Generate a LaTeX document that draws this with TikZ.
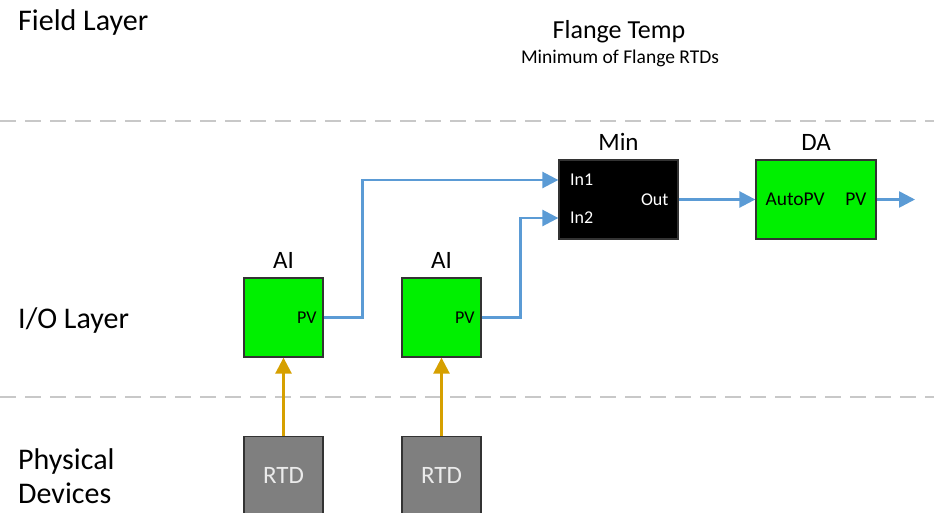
\documentclass[tikz,border=0pt]{standalone}
\usepackage{fontspec}
\setmainfont{Carlito}
\usetikzlibrary{arrows.meta,positioning}

\definecolor{flowblue}{RGB}{91,155,213}
\definecolor{rtdgold}{RGB}{214,160,0}
\definecolor{blkgreen}{RGB}{0,240,0}
\definecolor{rtdgray}{RGB}{127,127,127}
\definecolor{sepgray}{RGB}{200,200,200}

\tikzset{
  layer/.style={anchor=west, align=left, font=\fontsize{30}{35}\selectfont, inner sep=0pt},
  fblock/.style={draw=black!80, line width=1.3pt, fill=blkgreen, minimum width=79pt, minimum height=79pt, inner sep=0pt},
  minblock/.style={draw=black!80, line width=1.3pt, fill=black, minimum width=119pt, minimum height=79pt, inner sep=0pt},
  rtdblock/.style={draw=black!80, line width=1.3pt, fill=rtdgray, text=white!92!black, minimum width=79pt, minimum height=79pt, inner sep=0pt, font=\fontsize{25}{30}\selectfont},
  blabel/.style={font=\fontsize{25}{30}\selectfont, inner sep=0pt},
  port/.style={font=\fontsize{18}{22}\selectfont, inner sep=0pt},
  flow/.style={-{Triangle[length=16pt,width=16pt]}, draw=flowblue, line width=2.6pt},
  feed/.style={-{Triangle[length=16pt,width=16pt]}, draw=rtdgold, line width=2.6pt},
  sep/.style={draw=sepgray, line width=1.8pt, dash pattern=on 16pt off 9pt}
}

\begin{document}
\begin{tikzpicture}[line cap=butt,line join=miter,x=1pt,y=-1pt]
  \useasboundingbox (0,0) rectangle (934,512);
  \clip (0,0) rectangle (934,512);
  % layer separators
  \coordinate (s1l) at (0,121); \coordinate (s1r) at (934,121);
  \coordinate (s2l) at (0,397); \coordinate (s2r) at (934,397);
  \draw[sep] (s1l) -- (s1r);
  \draw[sep] (s2l) -- (s2r);
  % layer names
  \node[layer] (field) at (18,22) {Field Layer};
  \node[layer] (iolayer) at (18,320) {I/O Layer};
  \node[layer, align=left] (phys) at (18,476) {Physical\\[-1pt]Devices};
  % title
  \node[font=\fontsize{26}{31}\selectfont, inner sep=0pt] (title) at (619,32) {Flange Temp};
  \node[font=\fontsize{19.5}{23}\selectfont, inner sep=0pt] (subtitle) at (620,58) {Minimum of Flange RTDs};
  % function blocks
  \node[fblock] (ai1) at (283.5,317.5) {};
  \node[fblock] (ai2) at (441.5,317.5) {};
  \node[minblock] (minb) at (618.5,199.5) {};
  \node[fblock, minimum width=120pt] (da) at (816,199.5) {};
  \node[blabel, above=9pt of ai1] (ai1l) {AI};
  \node[blabel, above=9pt of ai2] (ai2l) {AI};
  \node[blabel, above=9pt of minb] (minl) {Min};
  \node[blabel, above=9pt of da] (dal) {DA};
  % ports
  \node[port, anchor=east] (ai1pv) at ([xshift=-7pt]ai1.east) {PV};
  \node[port, anchor=east] (ai2pv) at ([xshift=-7pt]ai2.east) {PV};
  \node[port, anchor=west, text=white] (in1) at (570,180) {In1};
  \node[port, anchor=west, text=white] (in2) at (570,218) {In2};
  \node[port, anchor=east, text=white] (out) at ([xshift=-10pt]minb.east) {Out};
  \node[port, anchor=west, font=\fontsize{19.5}{23}\selectfont] (autopv) at ([xshift=10pt]da.west) {AutoPV};
  \node[port, anchor=east, font=\fontsize{19.5}{23}\selectfont] (dapv) at ([xshift=-10pt]da.east) {PV};
  \coordinate (daout) at (915,199.5);
  % physical devices
  \node[rtdblock, anchor=north] (rtd1) at (283.5,436) {};
  \node[rtdblock, anchor=north] (rtd2) at (441.5,436) {};
  \node[rtdblock, draw=none, fill=none, minimum size=0pt] (rtd1t) at (283.5,475) {RTD};
  \node[rtdblock, draw=none, fill=none, minimum size=0pt] (rtd2t) at (441.5,475) {RTD};
  % connections
  \draw[feed] (rtd1.north) -- (ai1.south);
  \draw[feed] (rtd2.north) -- (ai2.south);
  \draw[flow] (ai1.east) -- ++(39,0) |- (in1 -| minb.west);
  \draw[flow] (ai2.east) -- ++(39,0) |- (in2 -| minb.west);
  \draw[flow] (minb.east) -- (da.west);
  \draw[flow] (da.east) -- (daout);
\end{tikzpicture}
\end{document}
